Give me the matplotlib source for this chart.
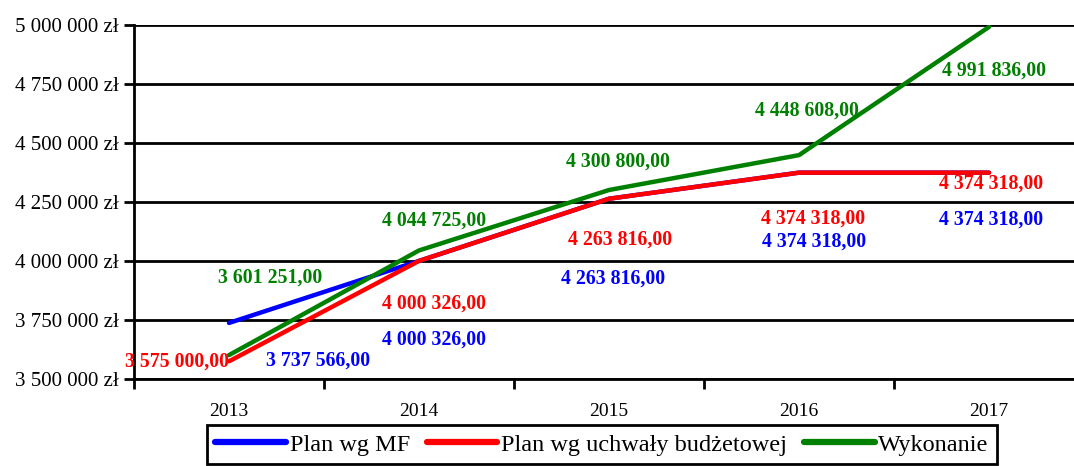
import matplotlib
matplotlib.use("Agg")
import matplotlib.pyplot as plt
from matplotlib.ticker import FuncFormatter

years = ["2013", "2014", "2015", "2016", "2017"]
plan_mf = [3737566, 4000326, 4263816, 4374318, 4374318]
plan_uchwala = [3575000, 4000326, 4263816, 4374318, 4374318]
wykonanie = [3601251, 4044725, 4300800, 4448608, 4991836]
series_names = ["Plan wg MF", "Plan wg uchwały budżetowej", "Wykonanie"]

# label offsets in pixels (style/position only)
off_mf = [(89, -38), (15, -79), (4, -80), (15, -69), (2, -47)]
off_uch = [(-52, 0), (15, -43), (11, -41), (14, -46), (2, -11)]
off_wyk = [(41, 78), (15, 30), (9, 28), (8, 45), (5, -44)]

plt.rcParams['font.family'] = ['Liberation Serif', 'DejaVu Serif']

fig = plt.figure(figsize=(10.74, 4.66), dpi=100)
W, H = 1074, 466
ax = fig.add_axes([134 / W, 1 - 379 / H, (1084 - 134) / W, (379 - 25) / H])

x = list(range(len(years)))
colors = ["#0000FF", "#FF0000", "#008000"]
for vals, c, name in zip([plan_mf, plan_uchwala, wykonanie], colors, series_names):
    ax.plot(x, vals, color=c, lw=3.2, label=name, solid_capstyle='round', zorder=3)

for vals, c, offs in zip([plan_mf, plan_uchwala, wykonanie], colors, [off_mf, off_uch, off_wyk]):
    for xi, v, (dx, dy) in zip(x, vals, offs):
        s = f"{v:,.2f}".replace(",", " ").replace(".", ",")
        ax.annotate(s, (xi, v), xytext=(dx, dy), textcoords='offset pixels',
                    ha='center', va='center', color=c, fontsize=14.3,
                    fontweight='bold', zorder=4, annotation_clip=False)

ax.set_xlim(-0.5, 4.5)
ax.set_ylim(3500000, 5000000)
ax.set_yticks(range(3500000, 5000001, 250000))
ax.yaxis.set_major_formatter(FuncFormatter(lambda v, p: f"{int(v):,}".replace(",", " ") + " zł"))
ax.set_xticks(x)
ax.set_xticklabels(years)
ax.set_xticks([i - 0.5 for i in range(6)], minor=True)
ax.tick_params(axis='x', which='major', length=0, pad=17, labelsize=14)
ax.tick_params(axis='x', which='minor', length=7, width=2, direction='out')
ax.tick_params(axis='y', length=7, width=2, direction='out', labelsize=15, pad=4)

ax.grid(axis='y', color='black', lw=2, zorder=1)
for sp in ['top', 'right']:
    ax.spines[sp].set_visible(False)
for sp in ['left', 'bottom']:
    ax.spines[sp].set_linewidth(2)
    ax.spines[sp].set_zorder(2)

leg = fig.legend(loc='upper center', bbox_to_anchor=(602 / W, 1 - 425 / H), ncol=3,
                 fontsize=17.5, frameon=True, fancybox=False, handlelength=2.9,
                 handletextpad=0.15, columnspacing=0.7, borderpad=0.35,
                 borderaxespad=0, framealpha=1)
leg.get_frame().set_edgecolor('black')
leg.get_frame().set_linewidth(2)
for line in leg.get_lines():
    line.set_linewidth(4.5)

fig.savefig("out.png", dpi=100)
